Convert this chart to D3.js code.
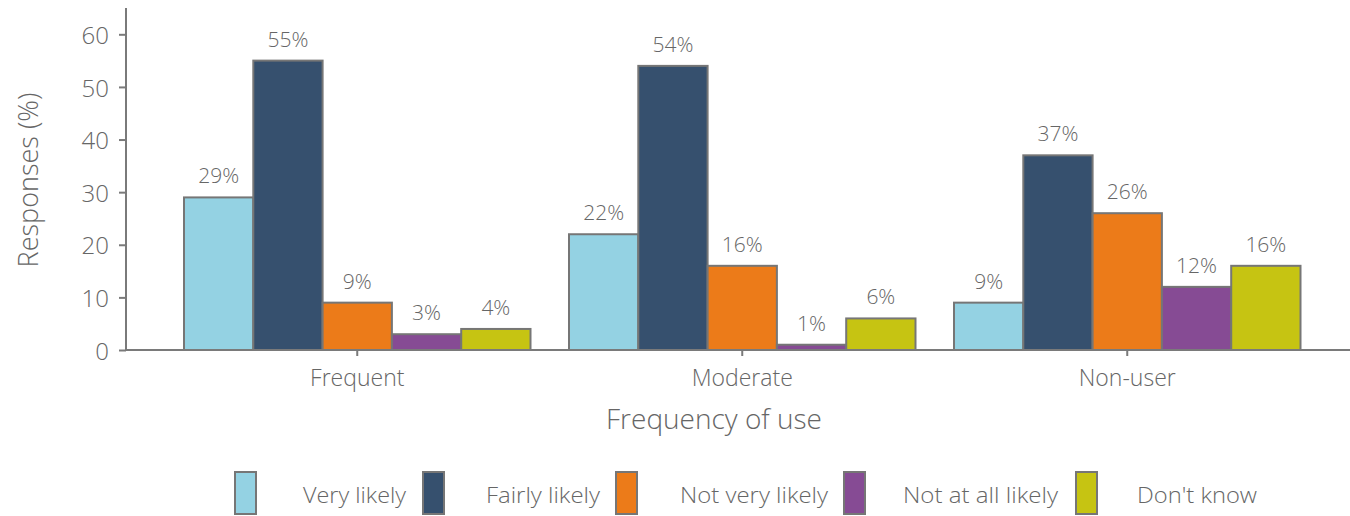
<!DOCTYPE html>
<html>
<head>
<meta charset="utf-8">
<script src="https://cdn.jsdelivr.net/npm/d3@7"></script>
<style>
  html, body { margin: 0; padding: 0; background: #fff; }
  svg { display: block; }
  text { font-family: "Open Sans", Lato, sans-serif; font-weight: 300; fill: #666666; }
</style>
</head>
<body>
<svg id="chart" width="1350" height="516"></svg>
<script>
// Survey responses by frequency of use
const categories = ["Frequent", "Moderate", "Non-user"];
const seriesNames = ["Very likely", "Fairly likely", "Not very likely", "Not at all likely", "Don't know"];
const seriesColors = ["#94d2e3", "#36506e", "#ec7b19", "#864b94", "#c6c412"];
const veryLikely = [29, 22, 9];
const fairlyLikely = [55, 54, 37];
const notVeryLikely = [9, 16, 26];
const notAtAllLikely = [3, 1, 12];
const dontKnow = [4, 6, 16];
const yTicks = [0, 10, 20, 30, 40, 50, 60];
const seriesValues = [veryLikely, fairlyLikely, notVeryLikely, notAtAllLikely, dontKnow];

const svg = d3.select("#chart");
const axisColor = "#7a7a7a";
const x0Axis = 126, yZero = 350;

const y = d3.scaleLinear().domain([0, 65]).range([yZero, 8]);
const x0 = d3.scaleBand().domain(categories).range([164.75, 1319.75]).paddingInner(0.1).paddingOuter(0.05);
const x1 = d3.scaleBand().domain(seriesNames).range([0, x0.bandwidth()]);

// bars
const groups = svg.append("g").selectAll("g")
  .data(categories).join("g")
  .attr("transform", d => `translate(${x0(d)},0)`);

const cells = (c, ci) => seriesNames.map((s, si) => ({ s, si, v: seriesValues[si][ci] }));

groups.selectAll("rect")
  .data(cells)
  .join("rect")
  .attr("x", d => x1(d.s))
  .attr("y", d => y(d.v))
  .attr("width", x1.bandwidth())
  .attr("height", d => yZero - y(d.v))
  .attr("fill", d => seriesColors[d.si])
  .attr("stroke", "#767676")
  .attr("stroke-width", 2);

groups.selectAll("text.val")
  .data(cells)
  .join("text")
  .attr("class", "val")
  .attr("x", d => x1(d.s) + x1.bandwidth() / 2)
  .attr("y", d => y(d.v) - 14)
  .attr("text-anchor", "middle")
  .style("font-size", "21px")
  .text(d => d.v + "%");

// y axis
const yAxis = svg.append("g")
  .attr("transform", `translate(${x0Axis},0)`)
  .call(d3.axisLeft(y).tickValues(yTicks).tickSize(7).tickPadding(10).tickSizeOuter(0));
yAxis.select(".domain").attr("stroke", axisColor).attr("stroke-width", 2).attr("d", `M0,${y(65)}V${yZero}`);
yAxis.selectAll(".tick line").attr("stroke", axisColor).attr("stroke-width", 2);
yAxis.selectAll(".tick text")
  .style("font-size", "24px").attr("dy", "0.38em")
  .attr("fill", "#666666").attr("font-family", null);

// x axis
const xAxis = svg.append("g")
  .attr("transform", `translate(0,${yZero})`)
  .call(d3.axisBottom(x0).tickSize(6).tickPadding(14).tickSizeOuter(0));
xAxis.select(".domain").attr("stroke", axisColor).attr("stroke-width", 2).attr("d", `M${x0Axis},0H1350`);
xAxis.selectAll(".tick line").attr("stroke", axisColor).attr("stroke-width", 2);
xAxis.selectAll(".tick text")
  .style("font-size", "23px").attr("dy", "0.7em")
  .attr("fill", "#666666").attr("font-family", null);

// axis titles
svg.append("text")
  .attr("x", 714).attr("y", 429)
  .attr("text-anchor", "middle")
  .style("font-size", "28px")
  .text("Frequency of use");

svg.append("text")
  .attr("transform", "translate(38,180) rotate(-90)")
  .attr("text-anchor", "middle")
  .style("font-size", "27px")
  .text("Responses (%)");

// legend
const legendX = [235, 423, 616, 844, 1076];
const legendTextX = [303, 486, 680, 903, 1137];
const legendW = [103, 114, 148, 155, 120];
const legend = svg.append("g").selectAll("g")
  .data(seriesNames).join("g");
legend.append("rect")
  .attr("x", (d, i) => legendX[i]).attr("y", 472)
  .attr("width", 21).attr("height", 42)
  .attr("fill", (d, i) => seriesColors[i])
  .attr("stroke", "#767676").attr("stroke-width", 2);
legend.append("text")
  .attr("x", (d, i) => legendTextX[i]).attr("y", 503)
  .attr("textLength", (d, i) => legendW[i])
  .attr("lengthAdjust", "spacingAndGlyphs")
  .style("font-size", "22px")
  .text(d => d);
</script>
</body>
</html>
